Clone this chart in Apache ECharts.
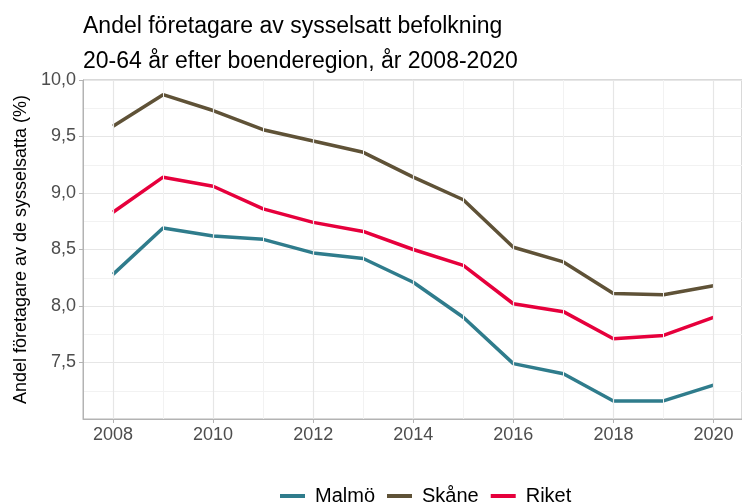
<!DOCTYPE html>
<html>
<head>
<meta charset="utf-8">
<script src="https://cdn.jsdelivr.net/npm/echarts@6/dist/echarts.min.js"></script>
<style>
  html, body { margin: 0; padding: 0; background: #fff; }
  #chart { width: 742px; height: 504px; }
</style>
</head>
<body>
<div id="chart"></div>
<script>
// data
var years = [2008, 2009, 2010, 2011, 2012, 2013, 2014, 2015, 2016, 2017, 2018, 2019, 2020];
var malmo = [8.28, 8.69, 8.62, 8.59, 8.47, 8.42, 8.21, 7.90, 7.49, 7.40, 7.16, 7.16, 7.30];
var skane = [9.59, 9.87, 9.73, 9.56, 9.46, 9.36, 9.14, 8.94, 8.52, 8.39, 8.11, 8.10, 8.18];
var riket = [8.83, 9.14, 9.06, 8.86, 8.74, 8.66, 8.50, 8.36, 8.02, 7.95, 7.71, 7.74, 7.90];
var xTicks = [2008, 2010, 2012, 2014, 2016, 2018, 2020];
var xMinor = [2009, 2011, 2013, 2015, 2017, 2019];
var yTicks = [7.5, 8.0, 8.5, 9.0, 9.5, 10.0];

var font = '"Liberation Sans", Arial, sans-serif';

var pairs = function(vals){
    return years.map(function(y, i){ return [y, vals[i]]; });
};

// vertical grid lines (major on even years, minor on odd)
var vLines = [];
xTicks.forEach(function(x){
    vLines.push({xAxis: x, lineStyle: {color: '#e6e6e6', width: 1.2, type: 'solid'}});
});
xMinor.forEach(function(x){
    vLines.push({xAxis: x, lineStyle: {color: '#f2f2f2', width: 1, type: 'solid'}});
});

var chart = echarts.init(document.getElementById('chart'), null, {renderer: 'canvas'});
chart.setOption({
    animation: false,
    backgroundColor: '#ffffff',
    title: {
        text: 'Andel företagare av sysselsatt befolkning\n20-64 år efter boenderegion, år 2008-2020',
        left: 78,
        top: 4,
        textStyle: {fontFamily: font, fontSize: 23, fontWeight: 'normal', color: '#000', lineHeight: 35}
    },
    legend: {
        top: 481,
        left: 275,
        icon: 'rect',
        itemWidth: 25,
        itemHeight: 4,
        itemGap: 12,
        textStyle: {fontFamily: font, fontSize: 20, color: '#000', padding: [0, 0, 0, 5]},
        data: ['Malmö', 'Skåne', 'Riket']
    },
    grid: {left: 83, right: -2, top: 80, bottom: 85, show: true, borderColor: '#b3b3b3', borderWidth: 1},
    xAxis: {
        type: 'value',
        min: 2007.4,
        max: 2020.57,
        axisLine: {show: true, lineStyle: {color: '#b3b3b3', width: 1}},
        axisTick: {show: true, customValues: xTicks, length: 4, lineStyle: {color: '#b3b3b3'}},
        axisLabel: {
            customValues: xTicks, color: '#4d4d4d', fontFamily: font, fontSize: 18, margin: 7,
            formatter: function(v){ return String(v); }
        },
        splitLine: {show: false}
    },
    yAxis: {
        type: 'value',
        min: 7,
        max: 10,
        interval: 0.5,
        name: 'Andel företagare av de sysselsatta (%)',
        nameLocation: 'middle',
        nameGap: 50,
        nameTextStyle: {fontFamily: font, fontSize: 18, color: '#000'},
        axisLine: {show: true, lineStyle: {color: '#b3b3b3', width: 1}},
        axisTick: {show: true, customValues: yTicks, length: 4, lineStyle: {color: '#b3b3b3'}},
        axisLabel: {
            customValues: yTicks,
            color: '#4d4d4d', fontFamily: font, fontSize: 18, margin: 7,
            formatter: function(v){ return v.toFixed(1).replace('.', ','); }
        },
        splitLine: {show: true, lineStyle: {color: '#e6e6e6', width: 1.2}},
        minorTick: {show: false, splitNumber: 2},
        minorSplitLine: {show: true, lineStyle: {color: '#f2f2f2', width: 1}}
    },
    series: [
        {
            name: 'grid',
            type: 'line',
            data: [],
            z: 1,
            silent: true,
            markLine: {silent: true, symbol: 'none', label: {show: false}, animation: false, data: vLines}
        },
        {name: 'Malmö', type: 'line', data: pairs(malmo), showSymbol: false, z: 3,
         itemStyle: {color: '#2f7c8c'}, lineStyle: {color: '#2f7c8c', width: 3.5}},
        {name: 'Skåne', type: 'line', data: pairs(skane), showSymbol: false, z: 3,
         itemStyle: {color: '#5f5237'}, lineStyle: {color: '#5f5237', width: 3.5}},
        {name: 'Riket', type: 'line', data: pairs(riket), showSymbol: false, z: 3,
         itemStyle: {color: '#e6003c'}, lineStyle: {color: '#e6003c', width: 3.5}}
    ]
});
</script>
</body>
</html>
